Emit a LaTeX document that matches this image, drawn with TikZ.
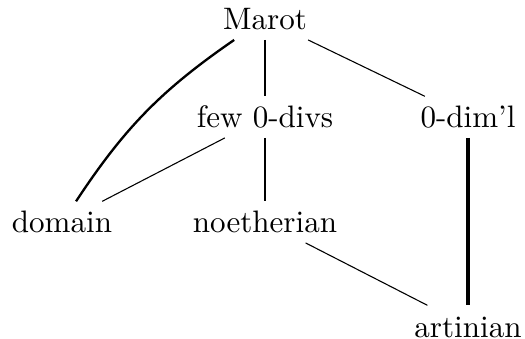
\documentclass[tikz,border=0pt]{standalone}
\begin{document}
\begin{tikzpicture}[x=0.322pt,y=-0.322pt,
  lbl/.style={inner sep=3pt,text height=7pt,text depth=0pt,anchor=base},
  thinedge/.style={line width=0.35pt},
  midedge/.style={line width=0.66pt},
  curveedge/.style={line width=0.75pt},
  heavyedge/.style={line width=1.1pt}]
\useasboundingbox (0,0) rectangle (525,339);
\node[lbl] (marot) at (265,30) {Marot};
\node[lbl] (few) at (265,128) {few 0-divs};
\node[lbl] (dim) at (468,128) {0-dim'l};
\node[lbl] (dom) at (62,233) {domain};
\node[lbl] (noe) at (265,233) {noetherian};
\node[lbl] (art) at (468,337) {artinian};
\draw[curveedge] (marot) to[bend right=11] (dom);
\draw[midedge] (marot) -- (few);
\draw[thinedge] (marot) -- (dim);
\draw[thinedge] (few) -- (dom);
\draw[midedge] (few) -- (noe);
\draw[thinedge] (noe) -- (art);
\draw[heavyedge] (dim) -- (art);
\end{tikzpicture}
\end{document}
